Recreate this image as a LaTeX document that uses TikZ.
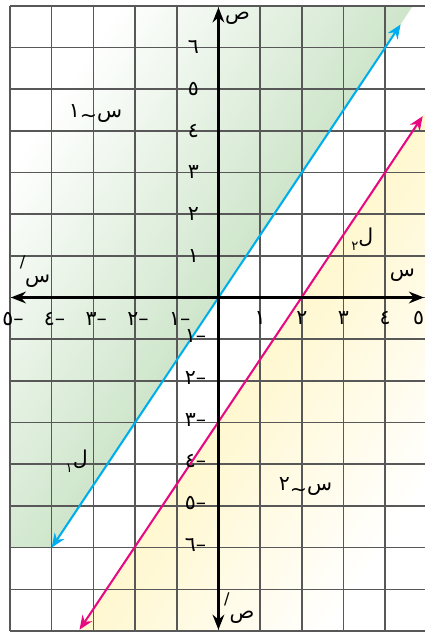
\documentclass[tikz,border=0pt]{standalone}
\usepackage{fontspec}
\usetikzlibrary{arrows.meta,positioning}
\newfontfamily\arabicfont[Script=Arabic]{DejaVu Sans}
\TeXXeTstate=1
\definecolor{gridgray}{RGB}{88,88,88}
\definecolor{lineblue}{RGB}{0,174,239}
\definecolor{linepink}{RGB}{230,10,128}
\definecolor{halfgreen}{RGB}{165,208,158}
\definecolor{halfyellow}{RGB}{255,240,160}
% negative tick: dash stands after the digit (right to left)
\newcommand{\negtick}[1]{\beginR\hbox{–}\hbox{#1}\endR}
% prime after a letter
\newcommand{\primed}[1]{\beginR\hbox{#1}\hbox{\raisebox{1.3ex}{\fontsize{11}{11}\selectfont/}}\endR}
% line name with index
\newcommand{\lname}[1]{\beginR\hbox{ل}\hbox{\raisebox{-0.6ex}{\fontsize{9}{9}\selectfont#1}}\endR}
% half-plane name
\newcommand{\hname}[1]{\beginR\hbox{س}\hbox{\raisebox{-0.5ex}{\textasciitilde}}\hbox{#1}\endR}

\begin{document}
\begin{tikzpicture}[
  font=\fontsize{14}{14}\arabicfont,
  gridln/.style={draw=gridgray, line width=1.1pt},
  axis/.style={line width=1.8pt,
    {Stealth[length=3.6mm,width=2.8mm]}-{Stealth[length=3.6mm,width=2.8mm]}},
  bound/.style={line width=1.4pt,
    {Stealth[length=3.4mm,width=2.8mm]}-{Stealth[length=3.4mm,width=2.8mm]}},
  tick/.style={inner sep=0pt},
  lbl/.style={inner sep=0pt}
]
  \useasboundingbox (-5.24,-8.048) rectangle (4.954,7.137);

  % shaded half-planes
  \shade[left color=white, right color=halfgreen, shading angle=56.3]
    (-5,7) -- (4.667,7) -- (-4,-6) -- (-5,-6) -- cycle;
  \shade[left color=halfyellow, right color=white, shading angle=56.3]
    (-3.333,-8) -- (4.93,4.4) -- (5,4.4) -- (5,-8) -- cycle;

  \draw[gridln] (-5,-8) grid (5,7);

  % boundary lines
  \coordinate (l1a) at (-4,-6);
  \coordinate (l1b) at (4.37,6.55);
  \coordinate (l2a) at (-3.333,-7.97);
  \coordinate (l2b) at (4.9,4.35);
  \draw[bound, lineblue] (l1a) -- (l1b);
  \draw[bound, linepink] (l2a) -- (l2b);

  % axes
  \coordinate (xw) at (-4.98,0);
  \coordinate (xe) at (4.93,0);
  \coordinate (ys) at (0,-7.97);
  \coordinate (yn) at (0,6.96);
  \draw[axis] (xw) -- (xe);
  \draw[axis] (ys) -- (yn);

  % ticks
  \foreach \k/\d in {1/١,2/٢,3/٣,4/٤} {
    \node[tick] (xp\k) at (\k,-0.5) {\d};
  }
  \node[tick] (xp5) at (4.8,-0.5) {٥};
  \foreach \k/\d in {1/١,2/٢,3/٣,4/٤,5/٥} {
    \node[tick] (xn\k) at (-\k+0.07,-0.52) {\negtick{\d}};
  }
  \foreach \k/\d in {1/١,2/٢,3/٣,4/٤,5/٥,6/٦} {
    \node[tick] (yp\k) at (-0.6,\k) {\d};
    \node[tick] (yn\k) at (-0.55,-\k+0.07) {\negtick{\d}};
  }

  % axis names
  \node[lbl] (ytop) at (0.46,6.71) {ص};
  \node[lbl] (ybot) at (0.5,-7.45) {\primed{ص}};
  \node[lbl] (xright) at (4.41,0.54) {س};
  \node[lbl] (xleft) at (-4.4,0.62) {\primed{س}};

  % names of lines and half-planes
  \node[lbl] (l1) at (-3.4,-3.92) {\lname{١}};
  \node[lbl] (l2) at (3.45,1.4) {\lname{٢}};
  \node[lbl] (s1) at (-2.95,4.41) {\hname{١}};
  \node[lbl] (s2) at (2.09,-4.54) {\hname{٢}};
\end{tikzpicture}
\end{document}
